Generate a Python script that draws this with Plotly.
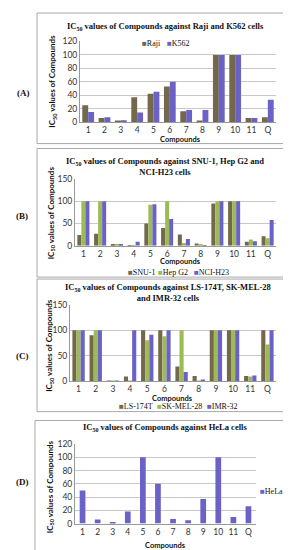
import plotly.graph_objects as go

compounds = ["1", "2", "3", "4", "5", "6", "7", "8", "9", "10", "11", "Q"]

# Panel A
raji = [25, 6, 2, 37, 42, 53, 16, 2, 100, 100, 6, 7]
k562 = [15, 7, 2.5, 14, 45, 60, 18, 18, 100, 100, 6, 33]
# Panel B
snu1 = [24, 27, 3, 1, 50, 40, 25, 5, 95, 100, 9, 21]
hepg2 = [100, 100, 2, 1, 92, 100, 6, 4, 100, 100, 14, 17]
ncih23 = [100, 100, 2, 9, 93, 60, 15, 1.5, 100, 100, 10, 58]
# Panel C
ls174t = [100, 90, 0.5, 9, 100, 100, 29, 10, 100, 100, 10, 100]
skmel28 = [100, 100, 0.5, 0.5, 80, 88, 100, 0.5, 100, 100, 9, 72]
imr32 = [100, 100, 0.5, 100, 91, 100, 18, 2, 100, 100, 11, 100]
# Panel D
hela = [50, 6, 2.5, 18, 100, 60, 7, 5, 37, 100, 10, 26]

BROWN = "#74684C"
GREEN = "#9DBB55"
BLUE = "#6B62C8"

W, H = 291, 550
def px(x):
    return x / W
def py(y):
    return 1 - y / H

panels = [
    dict(name="A", series=[("Raji", raji, BROWN), ("K562", k562, BLUE)],
         xdom=(72, 268), ydom=(111, 29), yr=120, dt=20),
    dict(name="B", series=[("SNU-1", snu1, BROWN), ("Hep G2", hepg2, GREEN), ("NCI-H23", ncih23, BLUE)],
         xdom=(67, 268), ydom=(237, 169), yr=150, dt=50),
    dict(name="C", series=[("LS-174T", ls174t, BROWN), ("SK-MEL-28", skmel28, GREEN), ("IMR-32", imr32, BLUE)],
         xdom=(62, 268), ydom=(375, 297), yr=150, dt=50),
    dict(name="D", series=[("HeLa", hela, BLUE)],
         xdom=(67, 248), ydom=(520, 439), yr=120, dt=20),
]

fig = go.Figure()
layout = dict(width=W, height=H, margin=dict(l=0, r=0, t=0, b=0),
              paper_bgcolor="white", plot_bgcolor="white", showlegend=False,
              barmode="group", bargap=0.28, bargroupgap=0.0)

tickfont = dict(family="Lato, Open Sans, sans-serif", size=8.5, color="#333")
for i, p in enumerate(panels):
    sfx = "" if i == 0 else str(i + 1)
    for name, vals, col in p["series"]:
        kw = {}
        if len(p["series"]) == 1:
            kw["width"] = 0.38
        fig.add_trace(go.Bar(x=compounds, y=vals, name=name, marker_color=col,
                             marker_line_width=0, xaxis="x" + sfx, yaxis="y" + sfx, **kw))
    layout["xaxis" + sfx] = dict(domain=[px(p["xdom"][0]), px(p["xdom"][1])], anchor="y" + sfx,
                                 type="category", tickfont=tickfont, showline=True,
                                 linecolor="#999", linewidth=1, ticks="", showgrid=False,
                                 fixedrange=True)
    layout["yaxis" + sfx] = dict(domain=[py(p["ydom"][0]), py(p["ydom"][1])], anchor="x" + sfx,
                                 range=[0, p["yr"]], dtick=p["dt"], tickfont=tickfont,
                                 showgrid=True, gridcolor="#C8C8C8", gridwidth=1,
                                 showline=True, linecolor="#999", linewidth=1,
                                 zeroline=False, ticks="", fixedrange=True)
fig.update_layout(**layout)

serif = "Liberation Serif, Times New Roman, serif"
sans = "Lato, Open Sans, sans-serif"
ann = []
def text(x, y, t, size, family, bold=True, angle=0, xanchor="center", align="center"):
    ann.append(dict(x=px(x), y=py(y), xref="paper", yref="paper", text=("<b>%s</b>" % t) if bold else t,
                    showarrow=False, font=dict(family=family, size=size, color="#111"),
                    textangle=angle, xanchor=xanchor, yanchor="middle", align=align))

# Titles
text(157, 14, "IC<sub>50</sub> values of Compounds against Raji and K562 cells", 8.5, serif)
text(157, 156, "IC<sub>50</sub> values of Compounds against SNU-1, Hep G2 and<br>NCI-H23 cells", 8.5, serif)
text(160, 285, "IC<sub>50</sub> values of Compounds against LS-174T, SK-MEL-28<br>and IMR-32 cells", 8.5, serif)
text(157, 422, "IC<sub>50</sub> values of Compounds against HeLa cells", 8.5, serif)

# Panel labels
text(15, 81, "(A)", 9, serif)
text(14, 207, "(B)", 9, serif)
text(14, 349, "(C)", 9, serif)
text(14, 478, "(D)", 9, serif)

# Axis titles
ytitle = "IC<sub>50</sub> values of Compounds"
text(45, 70, ytitle, 8, sans, angle=-90)
text(43, 204, ytitle, 8, sans, angle=-90)
text(42, 338, ytitle, 8, sans, angle=-90)
text(42, 482, ytitle, 8, sans, angle=-90)
text(172, 129, "Compounds", 7.5, sans)
text(172, 253, "Compounds", 7.5, sans)
text(164, 393, "Compounds", 7.5, sans)
text(157, 542, "Compounds", 7.5, sans)

# Legends (one annotation per entry)
def legend(series, x0, y, gaps):
    x = x0
    for (n, _, c), g in zip(series, gaps):
        ann.append(dict(x=px(x), y=py(y), xref="paper", yref="paper",
                        text="<span style='color:%s'>■</span>%s" % (c, n), showarrow=False,
                        font=dict(family=serif, size=8, color="#111"),
                        xanchor="left", yanchor="middle"))
        x += g

legend(panels[0]["series"], 132, 31, [25, 30])
legend(panels[1]["series"], 118, 264, [30, 36, 40])
legend(panels[2]["series"], 109, 401, [38, 50, 40])
legend(panels[3]["series"], 250, 487, [30])

fig.update_layout(annotations=ann)

# Panel frames
frames = [(29, 0, 285, 133), (29, 138, 285, 269), (29, 271, 285, 406), (27, 415, 285, 548)]
shapes = []
for x0, y0, x1, y1 in frames:
    shapes.append(dict(type="rect", xref="paper", yref="paper", x0=px(x0), x1=px(x1),
                       y0=py(y1), y1=py(y0), line=dict(color="#A8A8A8", width=1), layer="below"))
fig.update_layout(shapes=shapes)

fig.write_html("out.html")
